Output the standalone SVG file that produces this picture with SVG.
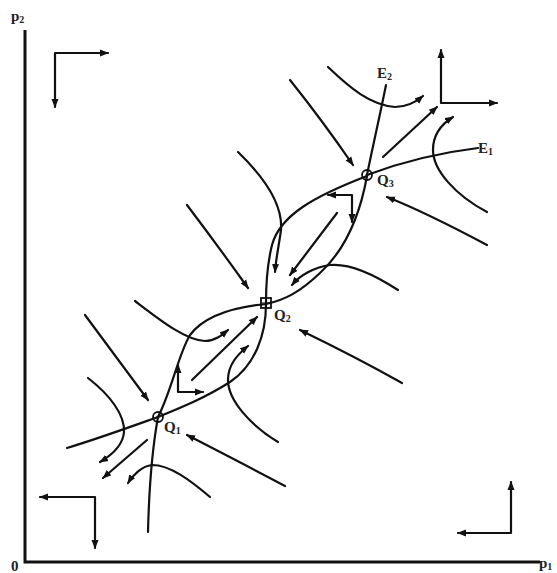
<svg xmlns="http://www.w3.org/2000/svg" width="557" height="573" viewBox="0 0 557 573">
<style>
.ln{fill:none;stroke:#111;stroke-width:2.2;stroke-linecap:round;stroke-linejoin:round}
.ax{fill:none;stroke:#111;stroke-width:3}
.ar{marker-end:url(#ah)}
.lar{marker-start:url(#ah);marker-end:url(#ah)}
.t{font-family:"Liberation Serif","Times New Roman",serif;font-size:15px;font-weight:bold;fill:#222}
.s{font-size:10px}
</style>
<defs>
<marker id="ah" markerUnits="userSpaceOnUse" markerWidth="10" markerHeight="8" refX="8" refY="4" orient="auto-start-reverse">
<path d="M0,0.5 L9,4 L0,7.5 Z" fill="#111"/>
</marker>
</defs>
<g id="axes">
<path class="ax" d="M25,30 L25,562 L540,562"/>
<text class="t" x="11" y="21">p<tspan class="s" dy="2">2</tspan></text>
<text class="t" x="11" y="571">0</text>
<text class="t" x="539" y="568">p<tspan class="s" dy="2">1</tspan></text>
</g>
<g id="isoclines">
<path class="ln" d="M386,85 C380,115 372,150 367,175"/>
<path class="ln" d="M367,175 Q420,155 478,148"/>
<path class="ln" d="M367,176 C315,196 280,215 272,245 C267,265 266,285 266,303"/>
<path class="ln" d="M367,176 C360,215 345,250 320,273 C300,292 285,300 266,304"/>
<path class="ln" d="M266,304 C235,307 205,315 190,335 C178,355 172,390 158,417"/>
<path class="ln" d="M266,304 C266,335 255,365 230,382 C205,398 180,408 158,417"/>
<path class="ln" d="M158,417 C152,450 149,490 148,532"/>
<path class="ln" d="M158,417 C130,427 100,438 67,448"/>
</g>
<g id="E2"><text class="t" x="377" y="78">E<tspan class="s" dy="2">2</tspan></text></g>
<g id="E1"><text class="t" x="478" y="153">E<tspan class="s" dy="2">1</tspan></text></g>
<g id="Q1">
<circle cx="158" cy="417" r="5" fill="none" stroke="#111" stroke-width="1.8"/>
<circle cx="158" cy="417" r="1.5" fill="#111"/>
<text class="t" x="164" y="432">Q<tspan class="s" dy="2">1</tspan></text>
</g>
<g id="Q2">
<rect x="261" y="298" width="10" height="10" fill="none" stroke="#111" stroke-width="1.8"/>
<path d="M266,298 V308 M261,303 H271" stroke="#111" stroke-width="1.2"/>
<text class="t" x="274" y="320">Q<tspan class="s" dy="2">2</tspan></text>
</g>
<g id="Q3">
<circle cx="367" cy="175" r="5" fill="none" stroke="#111" stroke-width="1.8"/>
<circle cx="367" cy="175" r="1.5" fill="#111"/>
<text class="t" x="377" y="185">Q<tspan class="s" dy="2">3</tspan></text>
</g>
<g id="connectors">
<path class="ln lar" d="M108,53 L55,53 L55,107"/>
<path class="ln lar" d="M441,50 L441,103 L497,103"/>
<path class="ln lar" d="M40,497 L95,497 L95,548"/>
<path class="ln lar" d="M511,482 L511,533 L458,533"/>
<path class="ln lar" d="M328,195 L352,195 L352,222"/>
<path class="ln lar" d="M178,365 L178,392 L203,392"/>
<path class="ln ar" d="M290,80 Q322,120 353,165"/>
<path class="ln ar" d="M328,67 C350,88 370,105 395,107 Q410,107 423,96"/>
<path class="ln ar" d="M383,157 L437,107"/>
<path class="ln ar" d="M487,212 C455,195 433,170 433,150 C433,135 440,125 453,117"/>
<path class="ln ar" d="M487,245 C455,228 420,210 387,197"/>
<path class="ln ar" d="M238,152 C265,178 283,205 281,230 C279,245 276,258 275,272"/>
<path class="ln ar" d="M187,205 Q218,246 248,288"/>
<path class="ln ar" d="M337,213 L290,275"/>
<path class="ln ar" d="M398,290 C375,275 350,263 330,265 C315,267 300,275 292,285"/>
<path class="ln ar" d="M402,383 C370,365 335,347 300,330"/>
<path class="ln ar" d="M192,380 L257,317"/>
<path class="ln ar" d="M135,301 C160,320 185,340 205,341 C215,341 222,335 228,330"/>
<path class="ln ar" d="M278,442 C250,425 228,400 228,380 C228,365 237,355 248,346"/>
<path class="ln ar" d="M85,315 L148,400"/>
<path class="ln ar" d="M88,378 C110,395 125,415 124,432 C123,445 112,455 100,462"/>
<path class="ln ar" d="M147,440 L103,478"/>
<path class="ln ar" d="M210,497 C190,480 170,465 152,465 C142,466 133,475 128,483"/>
<path class="ln ar" d="M285,486 C255,470 220,452 187,435"/>
</g>
</svg>
